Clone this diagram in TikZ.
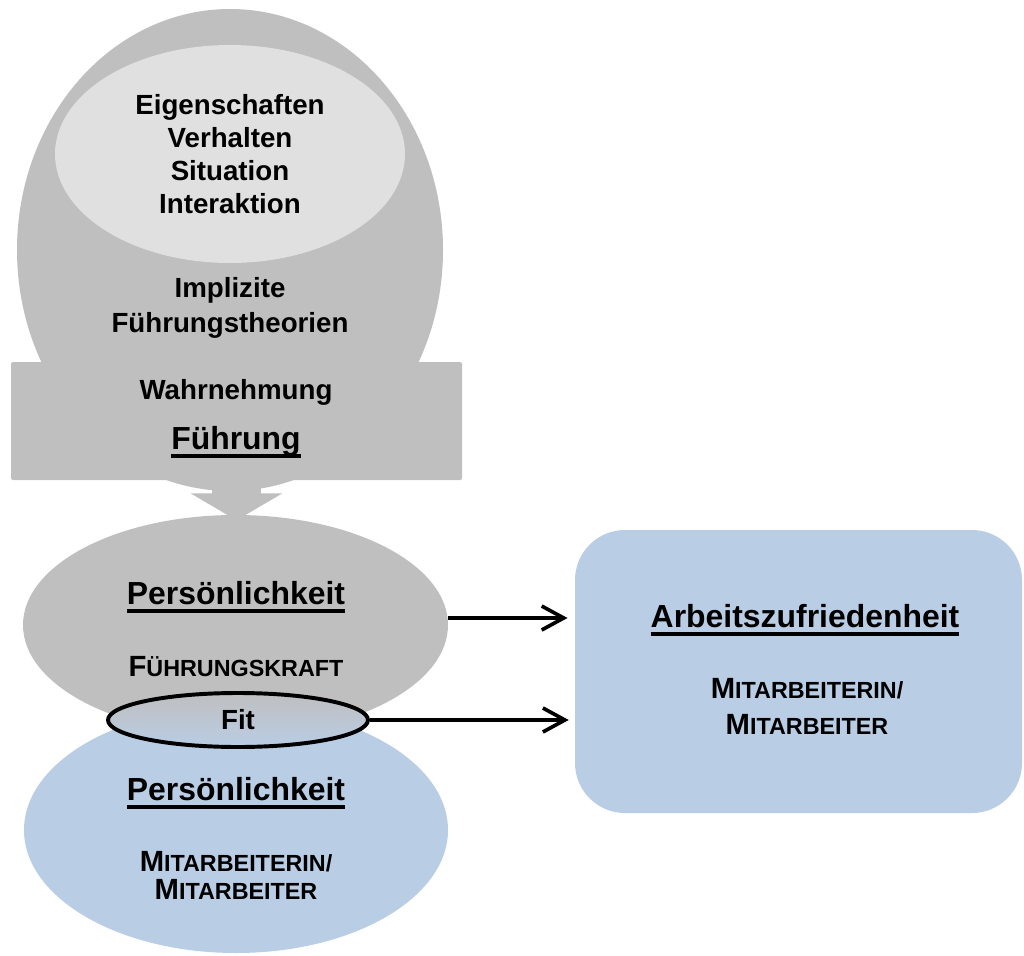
\documentclass[tikz,border=0pt]{standalone}
\usepackage{fontspec}
\setmainfont{Liberation Sans}
\usepackage{xcolor}
\usepackage{tikz}
\usetikzlibrary{arrows.meta,positioning,shapes,calc}

\definecolor{grau}{HTML}{BFBFBF}
\definecolor{hellgrau}{HTML}{E0E0E0}
\definecolor{hellblau}{HTML}{B9CDE5}

% underlined heading, thick rule close to the baseline
\newcommand{\unterstr}[1]{\setbox0=\hbox{#1}\leavevmode\rlap{\rule[-0.285em]{\wd0}{0.125em}}\box0}
% Word-like small caps: first letter full size, rest smaller
\newcommand{\kap}[2]{#1{\fontsize{16.6}{20}\selectfont #2}}

\begin{document}
\begin{tikzpicture}[
    every node/.style={font=\bfseries\fontsize{19.7}{23.4}\selectfont, align=center},
    blase/.style={ellipse, inner sep=0pt},
    titel/.style={font=\bfseries\fontsize{22.7}{27}\selectfont},
    kapsatz/.style={font=\bfseries\fontsize{20.8}{19.9}\selectfont},
    pfeil/.style={-{Straight Barb[length=5.5mm,width=6mm]}, line width=2.6pt},
]
\useasboundingbox (0,0) rectangle (25.6,-23.9);

% -------- TOP: implicit leadership theories --------
\node[blase, fill=grau, minimum width=10.65cm, minimum height=12.05cm]
  (kopf) at (5.75,-6.25) {};
\node[blase, fill=hellgrau, minimum width=8.75cm, minimum height=5.45cm]
  (ansaetze) at (5.75,-3.85) {Eigenschaften\\Verhalten\\Situation\\Interaktion};
\node[font=\bfseries\fontsize{19.7}{24.8}\selectfont]
  (theorien) at (5.75,-7.69) {Implizite\\Führungstheorien};

\node[fill=grau, rounded corners=1.5pt, minimum width=11.275cm, minimum height=2.95cm]
  (rahmen) at (5.9125,-10.525) {};
\node (wahrnehmung) at (5.9,-9.8) {Wahrnehmung};
\node[titel] (fuehrung) at (5.9,-11.05) {\unterstr{Führung}};

% block arrow down to the leader
\fill[grau] ($(rahmen.south)+(-0.61,0.05)$) -- ($(rahmen.south)+(-0.61,-0.325)$)
  -- ($(rahmen.south)+(-1.15,-0.325)$) -- ($(rahmen.south)+(0,-1.0)$)
  -- ($(rahmen.south)+(1.15,-0.325)$) -- ($(rahmen.south)+(0.61,-0.325)$)
  -- ($(rahmen.south)+(0.61,0.05)$) -- cycle;

% -------- LEFT: leader and employee --------
\node[blase, fill=hellblau, minimum width=10.6cm, minimum height=6.15cm]
  (ma) at (5.9,-20.75) {};
\node[blase, fill=grau, minimum width=10.625cm, minimum height=5.5cm]
  (fk) at (5.8875,-15.625) {};

\node[titel] (fkname) at (5.9,-14.925) {\unterstr{Persönlichkeit}};
\node[kapsatz] (fkrolle) at (5.9,-16.675) {\kap{F}{ÜHRUNGSKRAFT}};

\node[blase, draw, line width=2.8pt, shading=axis, top color=grau, bottom color=hellblau,
      minimum width=6.5cm, minimum height=1.35cm] (fit) at (5.95,-18.0) {Fit};

\node[titel] (maname) at (5.9,-19.825) {\unterstr{Persönlichkeit}};
\node[kapsatz] (marolle) at (5.9,-21.875) {\kap{M}{ITARBEITERIN/}\\\kap{M}{ITARBEITER}};

% -------- RIGHT: job satisfaction --------
\node[fill=hellblau, rounded corners=1.25cm, minimum width=11.175cm, minimum height=7.075cm]
  (az) at (19.9625,-16.7875) {};
\node[titel] (azname) at (20.125,-15.5) {\unterstr{Arbeitszufriedenheit}};
\node[kapsatz, font=\bfseries\fontsize{20.8}{25.6}\selectfont]
  (azrolle) at (20.175,-17.65) {\kap{M}{ITARBEITERIN/}\\\kap{M}{ITARBEITER}};

\coordinate (fkaus) at ($(fk.east)+(0,0.175)$);
\draw[pfeil, shorten >=0.18cm] (fkaus) -- (fkaus -| az.west);
\draw[pfeil, shorten >=0.15cm] (fit.east) -- (fit.east -| az.west);

\end{tikzpicture}
\end{document}
